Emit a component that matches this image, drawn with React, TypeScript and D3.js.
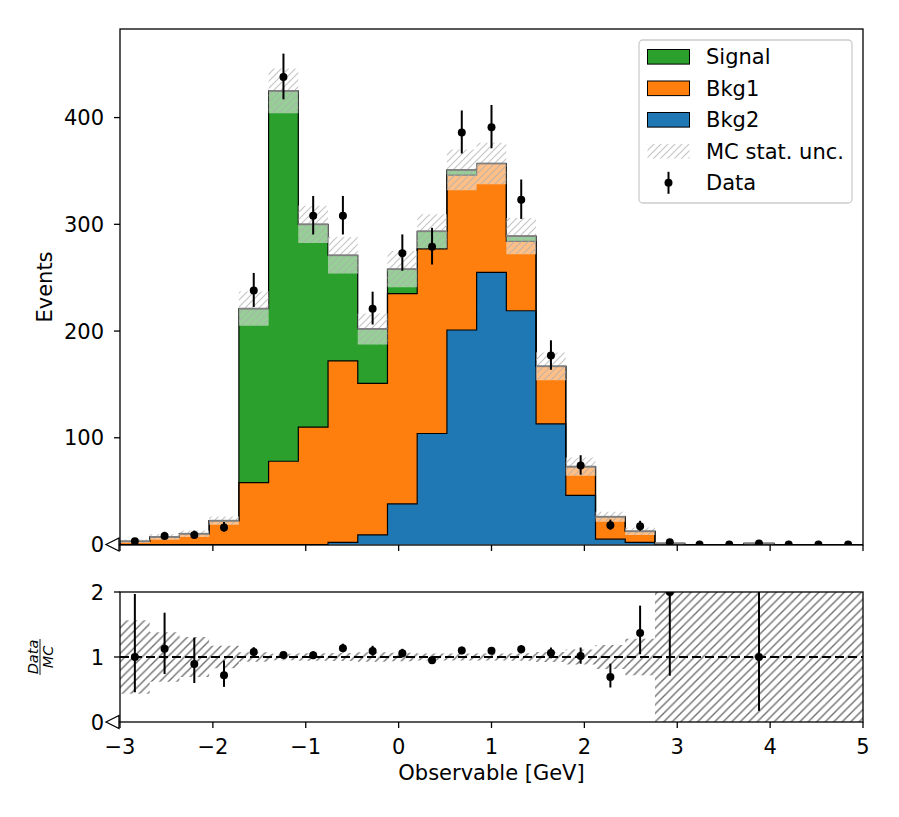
import React from "react";
import * as d3 from "d3";

// binning: 25 bins of width 0.32 between -3 and 5
const binEdges = d3.range(26).map((i) => -3 + i * 0.32);

const signal = [0, 0, 0, 0, 163, 347, 190, 99, 51, 23, 16.5, 5, 0, 5, 0, 0, 0, 0, 0, 0, 0, 0, 0, 0, 0];
const bkg1 = [3, 7.1, 10.1, 22.3, 58, 78, 110, 170, 142, 197, 173, 145, 102, 65, 54, 27, 21, 10.4, 1, 0, 0, 1, 0, 0, 0];
const bkg2 = [0, 0, 0, 0, 0, 0, 0, 2, 9, 38, 104, 201, 255, 219, 113, 46, 5, 2, 0, 0, 0, 0, 0, 0, 0];
const mcStatErr = [1.7, 2.7, 3.1, 3.9, 16, 21, 17.5, 17, 14.5, 17, 16, 19, 19.5, 17, 13, 8.5, 4.8, 3.5, 1.2, 0, 0, 1.1, 0, 0, 0];
const dataCounts = [3, 8, 9, 16, 238, 438, 308, 308, 221, 273, 279, 386, 391, 323, 177, 74, 18, 17, 2, 0, 0, 1, 0, 0, 0];

const xTicks = [-3, -2, -1, 0, 1, 2, 3, 4, 5];
const yTicks = [0, 100, 200, 300, 400];
const ratioTicks = [0, 1, 2];

const components = [
  { name: "Bkg2", values: bkg2, color: "#1f77b4" },
  { name: "Bkg1", values: bkg1, color: "#ff7f0e" },
  { name: "Signal", values: signal, color: "#2ca02c" },
];

const W = 899;
const H = 817;
const LEFT = 120;
const RIGHT = 863;
const TOP_Y0 = 29;
const TOP_Y1 = 545;
const RAT_Y0 = 592;
const RAT_Y1 = 722;
const FONT = "DejaVu Sans, sans-serif";
const FS = 21;

// approximate 68% Garwood interval (Wilson-Hilferty)
function poissonInterval(n: number): [number, number] {
  const lo = n === 0 ? 0 : n * Math.pow(1 - 1 / (9 * n) - 1 / (3 * Math.sqrt(n)), 3);
  const m = n + 1;
  const hi = m * Math.pow(1 - 1 / (9 * m) + 1 / (3 * Math.sqrt(m)), 3);
  return [lo, hi];
}

const fmt = (v: number) => (v < 0 ? "\u2212" + Math.abs(v) : String(v));

export default function App() {
  const x = d3.scaleLinear().domain([-3, 5]).range([LEFT, RIGHT]);
  const y = d3.scaleLinear().domain([0, 483]).range([544.5, TOP_Y0]);
  const yr = d3.scaleLinear().domain([0, 2]).range([RAT_Y1, RAT_Y0]);
  const yrClamp = yr.copy().clamp(true);
  const nb = binEdges.length - 1;
  const centers = d3.range(nb).map((i) => (binEdges[i] + binEdges[i + 1]) / 2);

  // cumulative stack
  const cum: number[][] = [];
  components.forEach((c, k) => {
    cum.push(c.values.map((v, i) => v + (k > 0 ? cum[k - 1][i] : 0)));
  });
  const total = cum[cum.length - 1];

  const stepArea = (lo: number[], hi: number[], ys: (v: number) => number) => {
    const l = [...lo, lo[lo.length - 1]];
    const h = [...hi, hi[hi.length - 1]];
    return d3
      .area<number>()
      .x((d) => x(d))
      .y0((d, i) => ys(l[i]))
      .y1((d, i) => ys(h[i]))
      .curve(d3.curveStepAfter)(binEdges) as string;
  };

  const stepLine = (v: number[]) => {
    const pts: [number, number][] = [[binEdges[0], 0]];
    v.forEach((val, i) => pts.push([binEdges[i], val]));
    pts.push([binEdges[nb], 0]);
    return d3
      .line<[number, number]>()
      .x((p) => x(p[0]))
      .y((p) => y(p[1]))
      .curve(d3.curveStepAfter)(pts) as string;
  };

  const zeros = total.map(() => 0);
  const bandLo = total.map((t, i) => Math.max(0, t - mcStatErr[i]));
  const bandHi = total.map((t, i) => t + mcStatErr[i]);
  const rel = total.map((t, i) => (t > 0 ? mcStatErr[i] / t : 10));
  const ratioLo = rel.map((r) => 1 - r);
  const ratioHi = rel.map((r) => 1 + r);

  const legendRows = [
    { label: "Signal", kind: "patch", color: "#2ca02c" },
    { label: "Bkg1", kind: "patch", color: "#ff7f0e" },
    { label: "Bkg2", kind: "patch", color: "#1f77b4" },
    { label: "MC stat. unc.", kind: "hatch", color: "" },
    { label: "Data", kind: "data", color: "" },
  ];

  return (
    <svg
      width={W}
      height={H}
      style={{ position: "absolute", left: 0, top: 0, background: "#fff" }}
      fontFamily={FONT}
    >
      <defs>
        <pattern id="hatchTop" patternUnits="userSpaceOnUse" width="7" height="7">
          <path d="M-1,1 l2,-2 M0,7 l7,-7 M6,8 l2,-2" stroke="#adadad" strokeWidth="1.2" />
        </pattern>
        <pattern id="hatchRatio" patternUnits="userSpaceOnUse" width="8.5" height="8.5">
          <path d="M-1,1 l2,-2 M0,8.5 l8.5,-8.5 M7.5,9.5 l2,-2" stroke="#707070" strokeWidth="1.4" />
        </pattern>
        <clipPath id="clipTop">
          <rect x={LEFT} y={TOP_Y0} width={RIGHT - LEFT} height={TOP_Y1 - TOP_Y0} />
        </clipPath>
        <clipPath id="clipRatio">
          <rect x={LEFT} y={RAT_Y0} width={RIGHT - LEFT} height={RAT_Y1 - RAT_Y0} />
        </clipPath>
      </defs>
      <rect width={W} height={H} fill="#fff" />

      {/* main panel */}
      <g clipPath="url(#clipTop)">
        {components.map((c, k) => (
          <path
            key={c.name}
            d={stepArea(k > 0 ? cum[k - 1] : zeros, cum[k], y)}
            fill={c.color}
          />
        ))}
        {components.map((c, k) => (
          <path key={c.name + "-edge"} d={stepLine(cum[k])} fill="none" stroke="#000" strokeWidth={1.2} />
        ))}
        <path d={stepArea(bandLo, bandHi, y)} fill="#fff" fillOpacity={0.5} />
        <path d={stepArea(bandLo, bandHi, y)} fill="url(#hatchTop)" opacity={0.7} />
        {total.map((t, i) =>
          t > 0 ? (
            <line
              key={"tot" + i}
              x1={x(binEdges[i])}
              x2={x(binEdges[i + 1])}
              y1={y(t)}
              y2={y(t)}
              stroke="#808080"
              strokeWidth={1.8}
            />
          ) : null
        )}
        {dataCounts.map((n, i) => {
          const [lo, hi] = poissonInterval(n);
          return (
            <g key={"d" + i}>
              {n > 0 && (
                <line x1={x(centers[i])} x2={x(centers[i])} y1={y(lo)} y2={y(hi)} stroke="#000" strokeWidth={2} />
              )}
              <circle cx={x(centers[i])} cy={y(n)} r={4} fill="#000" />
            </g>
          );
        })}
      </g>

      {/* ratio panel */}
      <g clipPath="url(#clipRatio)">
        <path d={stepArea(ratioLo, ratioHi, yrClamp)} fill="url(#hatchRatio)" />
        <line x1={LEFT} x2={RIGHT} y1={yr(1)} y2={yr(1)} stroke="#000" strokeWidth={1.8} strokeDasharray="9,4" />
        {dataCounts.map((n, i) => {
          if (total[i] <= 0) return null;
          const [lo, hi] = poissonInterval(n);
          const t = total[i];
          return (
            <g key={"r" + i}>
              <line
                x1={x(centers[i])}
                x2={x(centers[i])}
                y1={yr(lo / t)}
                y2={yr(hi / t)}
                stroke="#000"
                strokeWidth={2}
              />
              <circle cx={x(centers[i])} cy={yr(n / t)} r={4} fill="#000" />
            </g>
          );
        })}
      </g>

      {/* frames */}
      <rect x={LEFT} y={TOP_Y0} width={RIGHT - LEFT} height={TOP_Y1 - TOP_Y0} fill="none" stroke="#000" strokeWidth={1.3} />
      <rect x={LEFT} y={RAT_Y0} width={RIGHT - LEFT} height={RAT_Y1 - RAT_Y0} fill="none" stroke="#000" strokeWidth={1.3} />

      {/* x ticks */}
      {xTicks.map((t) => (
        <g key={"xt" + t}>
          <line x1={x(t)} x2={x(t)} y1={TOP_Y1} y2={TOP_Y1 + 6} stroke="#000" strokeWidth={1.3} />
          <line x1={x(t)} x2={x(t)} y1={RAT_Y1} y2={RAT_Y1 + 6} stroke="#000" strokeWidth={1.3} />
          <text x={x(t)} y={754} textAnchor="middle" fontSize={FS}>
            {fmt(t)}
          </text>
        </g>
      ))}

      {/* y ticks main */}
      {yTicks.map((t) => (
        <g key={"yt" + t}>
          <line x1={LEFT - 6} x2={LEFT} y1={y(t)} y2={y(t)} stroke="#000" strokeWidth={1.3} />
          <text x={104} y={y(t) + 7.5} textAnchor="end" fontSize={FS}>
            {t}
          </text>
        </g>
      ))}
      {/* y ticks ratio */}
      {ratioTicks.map((t) => (
        <g key={"rt" + t}>
          <line x1={LEFT - 6} x2={LEFT} y1={yr(t)} y2={yr(t)} stroke="#000" strokeWidth={1.3} />
          <text x={104} y={yr(t) + 7.5} textAnchor="end" fontSize={FS}>
            {t}
          </text>
        </g>
      ))}

      {/* origin markers */}
      {[y(0), yr(0)].map((yy, i) => (
        <polygon
          key={"tri" + i}
          points={`${LEFT - 14},${yy} ${LEFT - 1},${yy - 6.5} ${LEFT - 1},${yy + 6.5}`}
          fill="#fff"
          stroke="#000"
          strokeWidth={1.3}
        />
      ))}

      {/* axis labels */}
      <text transform="translate(52,287) rotate(-90)" textAnchor="middle" fontSize={FS}>
        Events
      </text>
      <g transform="translate(42,657) rotate(-90)">
        <text x={0} y={-4.5} textAnchor="middle" fontSize={14.5} fontStyle="italic">
          Data
        </text>
        <line x1={-18} x2={18} y1={-2} y2={-2} stroke="#000" strokeWidth={0.9} />
        <text x={0} y={10.5} textAnchor="middle" fontSize={14.5} fontStyle="italic">
          MC
        </text>
      </g>
      <text x={(LEFT + RIGHT) / 2} y={780} textAnchor="middle" fontSize={FS}>
        Observable [GeV]
      </text>

      {/* legend */}
      <g>
        <rect x={639} y={40} width={213} height={163} rx={4} fill="#fff" fillOpacity={0.8} stroke="#cccccc" strokeWidth={1.3} />
        {legendRows.map((row, i) => {
          const cy = 56.8 + i * 31.5;
          return (
            <g key={row.label}>
              {row.kind === "patch" && (
                <rect x={647.5} y={cy - 7.3} width={42} height={14.6} fill={row.color} stroke="#000" strokeWidth={1} />
              )}
              {row.kind === "hatch" && (
                <rect x={647.5} y={cy - 7.3} width={42} height={14.6} fill="url(#hatchTop)" opacity={0.7} />
              )}
              {row.kind === "data" && (
                <g>
                  <line x1={668.5} x2={668.5} y1={cy - 11} y2={cy + 11} stroke="#000" strokeWidth={2} />
                  <circle cx={668.5} cy={cy} r={4} fill="#000" />
                </g>
              )}
              <text x={706} y={cy + 7.5} fontSize={FS}>
                {row.label}
              </text>
            </g>
          );
        })}
      </g>
    </svg>
  );
}
